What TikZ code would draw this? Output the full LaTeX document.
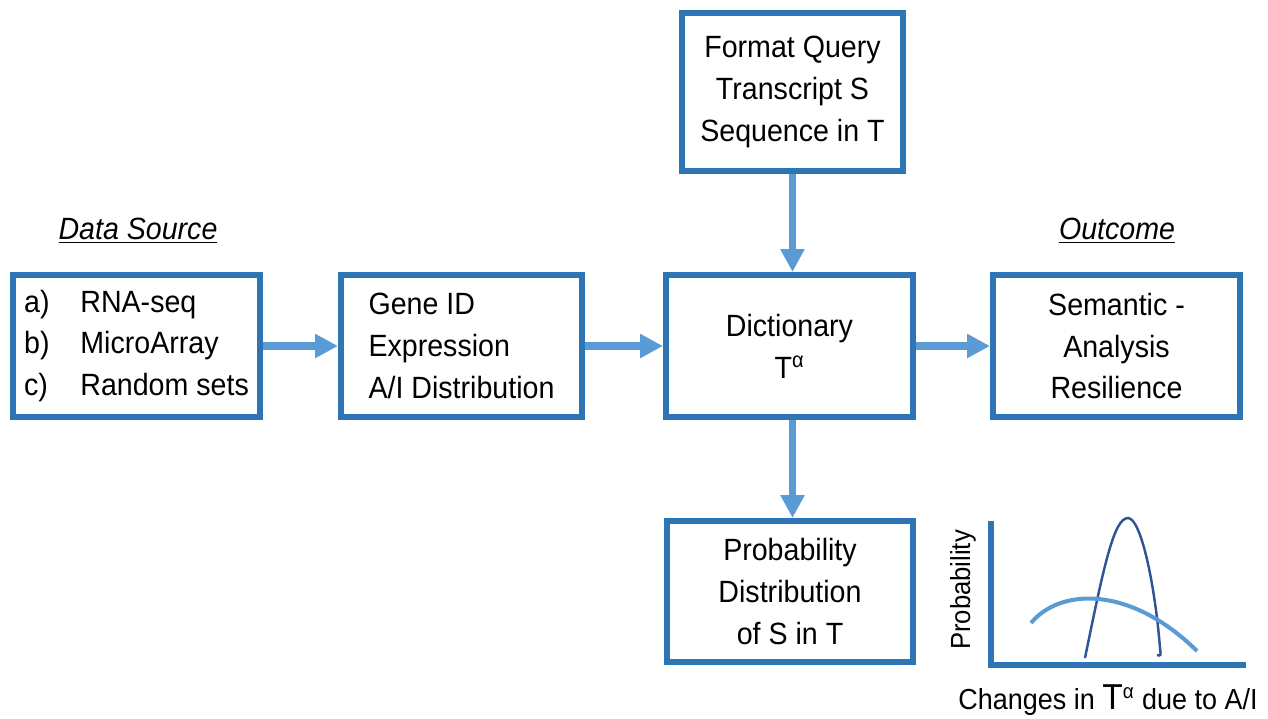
\documentclass[tikz,border=0pt]{standalone}
\usepackage{fontspec}
\setmainfont{Liberation Sans}[FakeStretch=0.93]
\usetikzlibrary{arrows.meta}

\definecolor{boxblue}{RGB}{46,117,182}
\definecolor{flowblue}{RGB}{91,155,213}
\definecolor{peakblue}{RGB}{47,85,151}

\begin{document}
\begin{tikzpicture}[x=0.02cm, y=-0.02cm,
    stage/.style={draw=boxblue, line width=3.2pt, minimum width=4.95cm, minimum height=2.85cm,
                  inner sep=0pt, font=\fontsize{17.5}{23.8}\selectfont},
    flow/.style={draw=flowblue, line width=4pt, -{Triangle[length=13pt,width=13pt]}},
    heading/.style={font=\fontsize{17.5}{20}\selectfont\itshape}]
    \useasboundingbox (0,0) rectangle (1268,718);

    % Headings
    \node[heading] (srchead) at (138,231) {\underline{Data Source}};
    \node[heading] (outhead) at (1117,231) {\underline{Outcome}};

    % Boxes
    \node[stage, align=left] (source) at (136.5,346)
        {\makebox[32pt][l]{a)}RNA-seq\\ \makebox[32pt][l]{b)}MicroArray\\ \makebox[32pt][l]{c)}Random sets};
    \node[stage, align=left, minimum width=4.83cm] (gene) at (461.5,346)
        {Gene ID\\ Expression\\ A/I Distribution};
    \node[stage, align=center] (dict) at (789.5,346) {Dictionary\\ T\textsuperscript{α}};
    \node[stage, align=center] (outcome) at (1116.5,346)
        {Semantic -\\ Analysis\\ Resilience};
    \node[stage, align=center, minimum width=4.43cm, minimum height=3.17cm] (query) at (792.5,92)
        {Format Query\\ Transcript S\\ Sequence in T};
    \node[stage, align=center, minimum width=4.93cm, minimum height=2.83cm] (prob) at (790,591.5)
        {Probability\\ Distribution\\ of S in T};

    % Arrows
    \draw[flow] (source) -- (gene);
    \draw[flow] (gene) -- (dict);
    \draw[flow] (dict) -- (outcome);
    \draw[flow] (query.south) -- (query.south |- dict.north);
    \draw[flow] (query.south |- dict.south) -- (query.south |- prob.north);

    % Small plot: axes
    \draw[boxblue, line width=3.4pt] (991,521) -- (991,665) -- (1246,665);
    \node[rotate=90, font=\fontsize{15.7}{18}\selectfont] (ylab) at (963,590) {Probability};
    \node[font=\fontsize{16.5}{20}\selectfont] (xlab) at (1108,700)
        {Changes in {\fontsize{20.5}{20}\selectfont T}\textsuperscript{α} due to A/I};

    % Narrow and wide distributions
    \draw[peakblue, line width=1.4pt] (1085,658) .. controls (1104,565) and (1114,518) .. (1128,518)
        .. controls (1141,518) and (1155,585) .. (1160,648) .. controls (1161,656) .. (1157,655);
    \draw[flowblue, line width=2.3pt] (1031,623) .. controls (1060,588) and (1130,585) .. (1197,651);
\end{tikzpicture}
\end{document}
